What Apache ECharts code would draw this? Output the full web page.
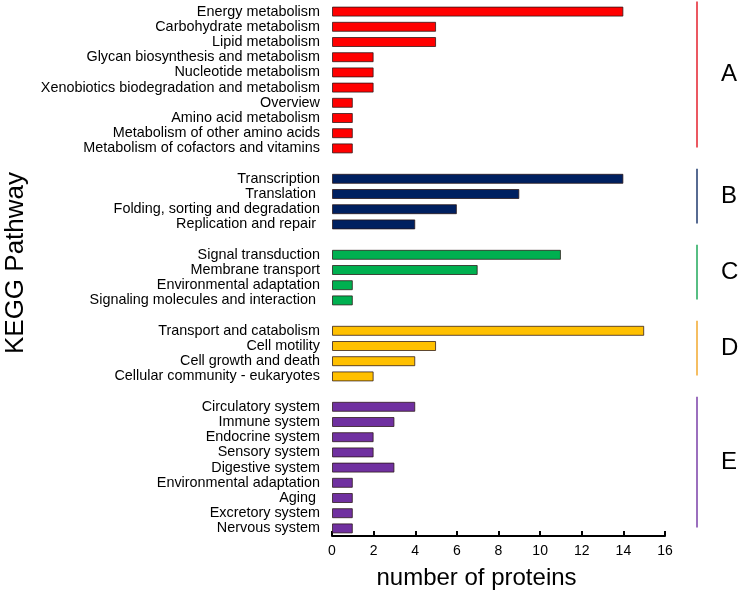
<!DOCTYPE html>
<html>
<head>
<meta charset="utf-8">
<script src="https://cdn.jsdelivr.net/npm/echarts@6/dist/echarts.min.js"></script>
<style>html,body{margin:0;padding:0;background:#fff}#c{width:739px;height:596px}</style>
</head>
<body>
<div id="c"></div>
<script>
// Groups of KEGG pathways (top to bottom)
const groupA = ['Energy metabolism','Carbohydrate metabolism','Lipid metabolism','Glycan biosynthesis and metabolism','Nucleotide metabolism','Xenobiotics biodegradation and metabolism','Overview','Amino acid metabolism','Metabolism of other amino acids','Metabolism of cofactors and vitamins'];
const valuesA = [14,5,5,2,2,2,1,1,1,1];
const groupB = ['Transcription','Translation ','Folding, sorting and degradation','Replication and repair '];
const valuesB = [14,9,6,4];
const groupC = ['Signal transduction','Membrane transport','Environmental adaptation','Signaling molecules and interaction '];
const valuesC = [11,7,1,1];
const groupD = ['Transport and catabolism','Cell motility','Cell growth and death','Cellular community - eukaryotes'];
const valuesD = [15,5,4,2];
const groupE = ['Circulatory system','Immune system','Endocrine system','Sensory system','Digestive system','Environmental adaptation','Aging ','Excretory system','Nervous system'];
const valuesE = [4,3,2,2,3,1,1,1,1];
const groupLetters = ['A','B','C','D','E'];
const groupColors = ['#FF0000','#002060','#00B050','#FFC000','#7030A0'];
const lineColors = ['#E5202C','#1F3A6E','#1FA85A','#F2A82E','#7A3FA8'];
const xTicks = [0,2,4,6,8,10,12,14,16];

const groups = [[groupA,valuesA],[groupB,valuesB],[groupC,valuesC],[groupD,valuesD],[groupE,valuesE]];
const categories = [];
const ranges = [];
groups.forEach((g,i)=>{
  if(i>0) categories.push({value:'gap'+i, textStyle:{color:'transparent'}});
  const start = categories.length;
  g[0].forEach(n=>categories.push(n));
  ranges.push([start, categories.length-1]);
});
const series = groups.map((g,i)=>{
  const data = categories.map(()=> '-');
  g[1].forEach((v,k)=>{ data[ranges[i][0]+k] = v; });
  return {
    type:'bar', stack:'all', barWidth:10, data:data,
    itemStyle:{color:groupColors[i], borderColor:'rgba(40,20,20,0.75)', borderWidth:1},
    silent:true
  };
});

const chart = echarts.init(document.getElementById('c'), null, {renderer:'canvas'});
chart.setOption({
  animation:false,
  grid:{left:332, right:74, top:4, height:532},
  xAxis:{
    type:'value', min:0, max:16, interval:2,
    axisLine:{show:true, lineStyle:{color:'#000', width:2}},
    axisTick:{show:true, inside:true, length:5, lineStyle:{color:'#000', width:2}},
    axisLabel:{color:'#000', fontFamily:'Liberation Sans', fontSize:14, margin:8},
    splitLine:{show:false},
    name:'number of proteins', nameLocation:'middle', nameGap:30,
    nameTextStyle:{color:'#000', fontFamily:'Liberation Sans', fontSize:24, padding:[0,44,0,0]}
  },
  yAxis:{
    type:'category', inverse:true, data:categories,
    axisLine:{show:false}, axisTick:{show:false},
    axisLabel:{color:'#000', fontFamily:'Liberation Sans', fontSize:14.4, margin:12, interval:0},
    name:'KEGG Pathway', nameLocation:'middle', nameGap:303,
    nameTextStyle:{color:'#000', fontFamily:'Liberation Sans', fontSize:26, padding:[0,0,0,14]}
  },
  series:series
});

// Group brackets and letters on the right, positioned through the category scale
const graphics = [];
ranges.forEach((r,i)=>{
  const y0 = chart.convertToPixel({yAxisIndex:0}, categories[r[0]]) - 10;
  const y1 = chart.convertToPixel({yAxisIndex:0}, categories[r[1]]) - 1;
  graphics.push({type:'line', shape:{x1:697,y1:Math.max(y0,0),x2:697,y2:y1}, style:{stroke:lineColors[i], lineWidth:1.5}});
  graphics.push({type:'text', x:721, y:(y0+y1)/2, style:{text:groupLetters[i], fill:'#000', font:'24px "Liberation Sans"', textVerticalAlign:'middle', textAlign:'left'}});
});
chart.setOption({graphic:graphics});
</script>
</body>
</html>
